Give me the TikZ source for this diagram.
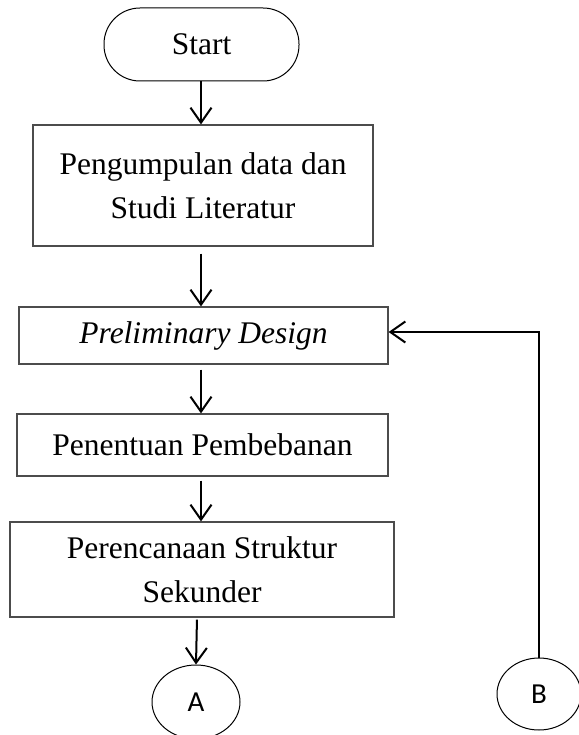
\documentclass[tikz,border=0pt]{standalone}
\usepackage{fontspec}
\setmainfont{Liberation Serif}
\newfontfamily\abfont{Carlito}
\usetikzlibrary{arrows.meta,shapes.geometric}
\begin{document}
\begin{tikzpicture}[x=1pt,y=-1pt,
  box/.style={draw=black!70,line width=1.2pt,rectangle,align=center,inner sep=0pt,
    font=\fontsize{31.5}{44}\selectfont},
  conn/.style={draw=black,line width=1pt,ellipse,inner sep=0pt,font=\abfont\fontsize{29}{32}\selectfont},
  flow/.style={line width=2pt,-{Straight Barb[length=15pt,width=21pt,line width=2pt]}}]
\useasboundingbox (0,0) rectangle (578,735);
\node[box,rounded corners=36pt,minimum width=195pt,minimum height=73pt,draw=black,line width=1pt] (start) at (201.5,44.5) {Start};
\node[box,minimum width=340pt,minimum height=121pt] (lit) at (203,185.5) {Pengumpulan data dan\\Studi Literatur};
\node[box,minimum width=369pt,minimum height=57pt] (pre) at (203.5,335.5) {\itshape Preliminary Design};
\node[box,minimum width=371pt,minimum height=62pt] (beban) at (202.5,445) {Penentuan Pembebanan};
\node[box,minimum width=384pt,minimum height=95pt] (sek) at (202,569.5) {Perencanaan Struktur\\Sekunder};
\node[conn,minimum width=88pt,minimum height=74pt] (A) at (196,702) {A};
\node[conn,minimum width=84pt,minimum height=72pt] (B) at (539,694) {B};
\draw[flow] (start.south -| 201,0) -- (lit.north -| 201,0);
\draw[flow,shorten <=7pt] (lit.south -| 201,0) -- (pre.north -| 201,0);
\draw[flow,shorten <=5pt] (pre.south -| 201,0) -- (beban.north -| 201,0);
\draw[flow,shorten <=4pt] (beban.south -| 201,0) -- (sek.north -| 201,0);
\draw[flow,shorten <=2pt] (sek.south -| 197,0) -- (A.north);
\coordinate (corner) at (539,332);
\draw[flow] (B.north) -- (corner) -- (pre.east |- corner);
\end{tikzpicture}
\end{document}
